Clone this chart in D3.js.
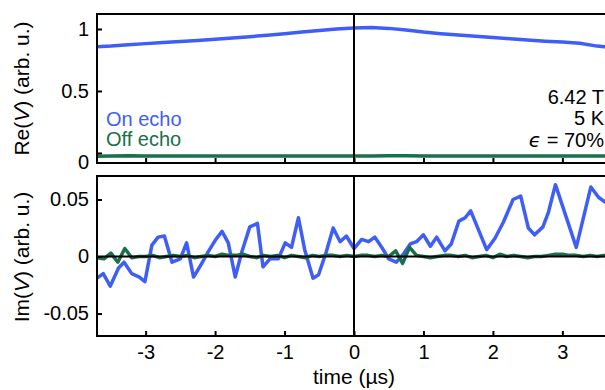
<!DOCTYPE html>
<html><head><meta charset="utf-8">
<script src="https://cdn.jsdelivr.net/npm/d3@7"></script>
<style>
body{margin:0;background:#fff}
svg{display:block}
text{font-family:"Liberation Sans",Arial,Helvetica,sans-serif}
</style>
</head><body>
<svg id="c" width="605" height="390"></svg>
<script>
// ---- data ----
const reTime = [-3.7,-3.5,-3.25,-3.0,-2.75,-2.5,-2.25,-2.0,-1.75,-1.5,-1.25,-1.0,-0.75,-0.5,-0.25,0,0.25,0.5,0.75,1.0,1.25,1.5,1.75,2.0,2.25,2.5,2.75,3.0,3.25,3.5,3.6,3.7];
const reOnEcho = [0.857,0.862,0.872,0.882,0.892,0.900,0.908,0.918,0.928,0.938,0.950,0.962,0.975,0.988,1.000,1.008,1.012,1.005,0.992,0.975,0.962,0.952,0.942,0.932,0.922,0.912,0.902,0.895,0.885,0.862,0.857,0.868];
const reOffEcho = [-0.026,-0.025,-0.022,-0.024,-0.025,-0.024,-0.025,-0.024,-0.025,-0.024,-0.025,-0.025,-0.024,-0.025,-0.024,-0.025,-0.024,-0.023,-0.022,-0.024,-0.025,-0.024,-0.025,-0.024,-0.025,-0.024,-0.025,-0.024,-0.025,-0.025,-0.025,-0.025];

const imOnTime = [-3.70,-3.61,-3.51,-3.39,-3.31,-3.20,-3.09,-3.01,-2.91,-2.82,-2.73,-2.62,-2.50,-2.41,-2.31,-2.22,-2.10,-2.00,-1.90,-1.81,-1.71,-1.62,-1.50,-1.39,-1.31,-1.21,-1.09,-0.99,-0.90,-0.80,-0.71,-0.59,-0.51,-0.40,-0.30,-0.20,-0.11,0.00,0.11,0.21,0.30,0.41,0.50,0.61,0.71,0.81,0.90,1.00,1.10,1.19,1.31,1.40,1.51,1.60,1.68,1.91,2.03,2.15,2.29,2.40,2.51,2.60,2.72,2.80,2.90,3.20,3.41,3.52,3.61,3.70];
const imOnEcho = [-0.019,-0.015,-0.026,-0.010,-0.005,-0.015,-0.018,-0.022,0.010,0.017,0.018,-0.005,-0.002,0.012,-0.018,-0.009,0.004,0.014,0.022,0.012,-0.018,0.003,0.026,0.029,-0.009,-0.002,-0.002,0.012,0.008,0.034,0.006,-0.019,-0.016,0.004,0.025,0.013,0.018,0.007,0.015,0.013,0.017,0.007,-0.002,-0.005,0.002,0.011,0.013,0.019,0.009,0.017,0.005,0.011,0.031,0.034,0.040,0.006,0.016,0.030,0.050,0.053,0.025,0.019,0.026,0.039,0.063,0.008,0.061,0.052,0.048,0.045];

const imOffTime = [-3.7,-3.6,-3.5,-3.4,-3.3,-3.2,-3.1,-3.0,-2.9,-2.8,-2.7,-2.6,-2.5,-2.4,-2.3,-2.2,-2.1,-2.0,-1.9,-1.8,-1.7,-1.6,-1.5,-1.4,-1.3,-1.2,-1.1,-1.0,-0.9,-0.8,-0.7,-0.6,-0.5,-0.4,-0.3,-0.2,-0.1,0.0,0.1,0.2,0.3,0.4,0.5,0.6,0.7,0.8,0.9,1.0,1.1,1.2,1.3,1.4,1.5,1.6,1.7,1.8,1.9,2.0,2.1,2.2,2.3,2.4,2.5,2.6,2.7,2.8,2.9,3.0,3.1,3.2,3.3,3.4,3.5,3.6,3.7];
const imOffEcho = [-0.001,-0.002,0.003,-0.005,0.007,-0.001,0.000,0.000,0.001,-0.001,0.000,0.001,0.000,0.001,-0.001,0.000,0.001,0.000,0.002,0.001,0.001,0.002,0.000,-0.001,0.001,0.000,0.001,-0.001,0.001,0.000,-0.001,0.001,0.000,0.001,0.001,0.000,0.001,0.000,0.001,0.001,0.000,0.001,0.000,0.005,-0.006,0.008,0.001,0.000,-0.001,0.000,0.001,0.001,0.000,0.001,-0.001,0.000,0.001,-0.001,0.002,0.000,0.001,0.000,-0.001,0.000,0.000,0.001,0.002,0.002,0.001,0.001,0.000,0.001,0.000,0.001,0.000];

const xTicks = [-3,-2,-1,0,1,2,3];
const reTicks = [0,0.5,1];
const imTicks = [-0.05,0,0.05];

const legendLabels = ["On echo","Off echo"];
const annotLines = ["6.42 T","5 K"];
const epsText = "70%";

// ---- style ----
const BLUE = "#3f5ef6", GREEN = "#19704b";
const FS = 20;
const svg = d3.select("#c");
const L = 97, R = 611;
const top1 = 14, bot1 = 163, top2 = 176, bot2 = 336;

const x = d3.scaleLinear().domain([-3.7,3.7]).range([L,R]);
const y1 = d3.scaleLinear().domain([-0.081,1.121]).range([bot1,top1]);
const y2 = d3.scaleLinear().domain([-0.0697,0.0706]).range([bot2,top2]);

function frame(t,b){
  svg.append("rect").attr("x",L).attr("y",t).attr("width",R-L).attr("height",b-t)
    .attr("fill","none").attr("stroke","#000").attr("stroke-width",2);
}

function styleAxis(g){
  g.select(".domain").remove();
  g.selectAll(".tick line").attr("stroke","#000").attr("stroke-width",2);
  g.selectAll(".tick text").attr("fill","#000").style("font-size",FS+"px")
   .style("font-family","'Liberation Sans',Arial,sans-serif");
}
const fmt = d => String(d);

// panel 1
const l1 = d3.line().x((d,i)=>x(reTime[i])).y(d=>y1(d));
svg.append("path").datum(reOnEcho).attr("d",l1).attr("fill","none").attr("stroke",BLUE).attr("stroke-width",3.5).attr("stroke-linejoin","round");
svg.append("path").datum(reOffEcho).attr("d",l1).attr("fill","none").attr("stroke",GREEN).attr("stroke-width",3.5).attr("stroke-linejoin","round");
svg.append("line").attr("x1",x(0)).attr("x2",x(0)).attr("y1",top1).attr("y2",bot1).attr("stroke","#000").attr("stroke-width",2);
frame(top1,bot1);
const ay1 = svg.append("g").attr("transform",`translate(${L},0)`)
  .call(d3.axisLeft(y1).tickValues(reTicks).tickFormat(fmt).tickSizeInner(-5).tickSizeOuter(0).tickPadding(8));
styleAxis(ay1);
ay1.selectAll(".tick").filter(d=>d===0).select("text").attr("y",9);
const ax1 = svg.append("g").attr("transform",`translate(0,${bot1})`)
  .call(d3.axisBottom(x).tickValues(xTicks).tickFormat("").tickSizeInner(-5).tickSizeOuter(0));
styleAxis(ax1);

// panel 2
svg.append("path").datum(imOnEcho).attr("d",d3.line().x((d,i)=>x(imOnTime[i])).y(d=>y2(d)))
  .attr("fill","none").attr("stroke",BLUE).attr("stroke-width",3.5).attr("stroke-linejoin","round");
svg.append("path").datum(imOffEcho).attr("d",d3.line().x((d,i)=>x(imOffTime[i])).y(d=>y2(d)))
  .attr("fill","none").attr("stroke",GREEN).attr("stroke-width",3.5).attr("stroke-linejoin","round");
svg.append("line").attr("x1",L).attr("x2",R).attr("y1",y2(0)).attr("y2",y2(0)).attr("stroke","#000").attr("stroke-width",2);
svg.append("line").attr("x1",x(0)).attr("x2",x(0)).attr("y1",top2).attr("y2",bot2).attr("stroke","#000").attr("stroke-width",2);
frame(top2,bot2);
const ay2 = svg.append("g").attr("transform",`translate(${L},0)`)
  .call(d3.axisLeft(y2).tickValues(imTicks).tickFormat(fmt).tickSizeInner(-5).tickSizeOuter(0).tickPadding(8));
styleAxis(ay2);
const ax2 = svg.append("g").attr("transform",`translate(0,${bot2})`)
  .call(d3.axisBottom(x).tickValues(xTicks).tickFormat(fmt).tickSizeInner(-5).tickSizeOuter(0).tickPadding(9));
styleAxis(ax2);

// axis titles
function ytitle(cy, pre){
  const t = svg.append("text").attr("transform",`translate(22,${cy}) rotate(-90)`)
    .attr("text-anchor","middle").attr("dy","0.35em").style("font-size",(FS+1)+"px").attr("fill","#000");
  t.append("tspan").text(pre+"(");
  t.append("tspan").attr("font-style","italic").text("V");
  t.append("tspan").text(") (arb. u.)");
}
ytitle((top1+bot1)/2,"Re");
ytitle((top2+bot2)/2+1,"Im");
svg.append("text").attr("x",x(0)).attr("y",384).attr("text-anchor","middle")
  .style("font-size",(FS+1)+"px").attr("fill","#000").text("time (\u00b5s)");

// legend
svg.append("text").attr("x",106).attr("y",125.5).style("font-size",FS+"px").attr("fill",BLUE).text(legendLabels[0]);
svg.append("text").attr("x",106).attr("y",146).style("font-size",FS+"px").attr("fill",GREEN).text(legendLabels[1]);

// annotation
const ax = 604;
svg.append("text").attr("x",ax).attr("y",104).attr("text-anchor","end").style("font-size",FS+"px").text(annotLines[0]);
svg.append("text").attr("x",ax).attr("y",125).attr("text-anchor","end").style("font-size",FS+"px").text(annotLines[1]);
const e = svg.append("text").attr("x",ax).attr("y",146.5).attr("text-anchor","end").style("font-size",FS+"px");
e.append("tspan").attr("font-style","italic").style("font-family","'DejaVu Sans',sans-serif").text("\u03f5");
e.append("tspan").text(" = "+epsText);
</script>
</body></html>
